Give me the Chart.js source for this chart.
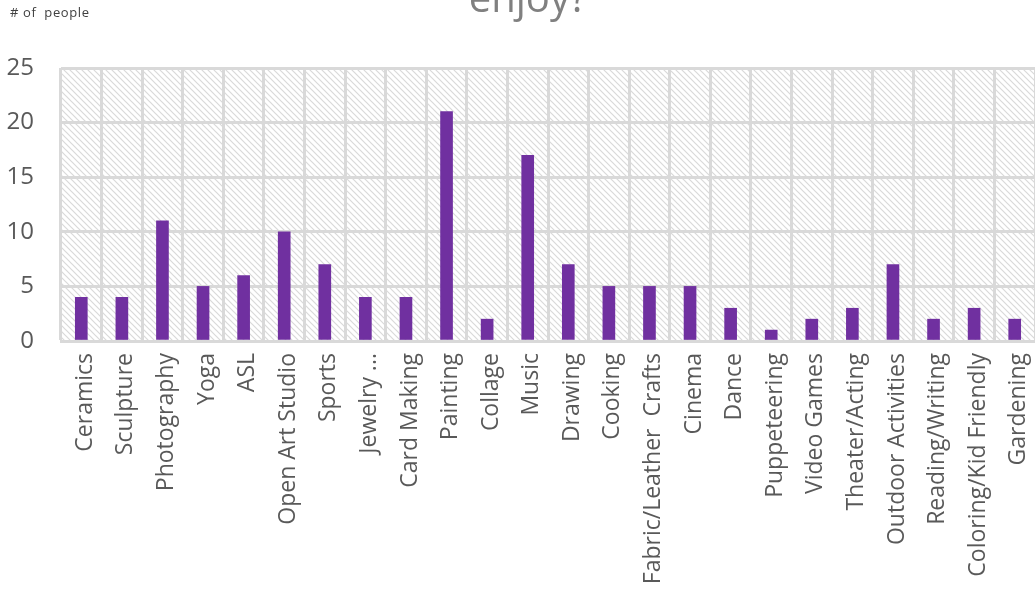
<!DOCTYPE html>
<html>
<head>
<meta charset="utf-8">
<script src="https://cdn.jsdelivr.net/npm/chart.js@4/dist/chart.umd.min.js"></script>
<style>
  body { margin: 0; background: #ffffff; }
  #wrap { position: relative; width: 1035px; height: 594px; overflow: hidden; }
</style>
</head>
<body>
<div id="wrap">
  <canvas id="myChart" width="1035" height="594"></canvas>
</div>
<script>
const categories = ['Ceramics', 'Sculpture', 'Photography', 'Yoga', 'ASL', 'Open Art Studio', 'Sports',
    'Jewelry ...', 'Card Making', 'Painting', 'Collage', 'Music', 'Drawing', 'Cooking',
    'Fabric/Leather  Crafts', 'Cinema', 'Dance', 'Puppeteering', 'Video Games', 'Theater/Acting',
    'Outdoor Activities', 'Reading/Writing', 'Coloring/Kid Friendly', 'Gardening'];
const people = [4, 4, 11, 5, 6, 10, 7, 4, 4, 21, 2, 17, 7, 5, 5, 5, 3, 1, 2, 3, 7, 2, 3, 2];
const yTicks = [0, 5, 10, 15, 20, 25];
const titleText = 'enjoy?';
const axisTitle = '# of  people';

const ctx = document.getElementById('myChart').getContext('2d');

// diagonal hatch for the plot background
function makeHatch() {
    const c = document.createElement('canvas');
    c.width = 6;
    c.height = 6;
    const g = c.getContext('2d');
    g.strokeStyle = '#d9d9d9';
    g.lineWidth = 1.2;
    g.beginPath();
    g.moveTo(-1, -1); g.lineTo(7, 7);
    g.moveTo(-4, 2); g.lineTo(2, 8);
    g.moveTo(2, -4); g.lineTo(8, 2);
    g.stroke();
    return ctx.createPattern(c, 'repeat');
}
const hatch = makeHatch();

const backdrop = {
    id: 'backdrop',
    beforeDraw(chart) {
        const a = chart.chartArea;
        const c = chart.ctx;
        c.save();
        c.fillStyle = hatch;
        c.fillRect(a.left, a.top, a.right - a.left, a.bottom - a.top);
        c.restore();
    },
    afterDraw(chart) {
        // title is cut off at the top in the original, only the last line shows
        const c = chart.ctx;
        c.save();
        c.fillStyle = '#808080';
        c.font = '40px "Open Sans"';
        c.textAlign = 'center';
        c.textBaseline = 'alphabetic';
        c.fillText(titleText, 528, 12);
        c.letterSpacing = '0.6px';
        c.fillStyle = '#404040';
        c.font = '13px "Open Sans"';
        c.textAlign = 'left';
        c.fillText(axisTitle, 10, 17);
        c.restore();
    }
};

const myChart = new Chart(ctx, {
    type: 'bar',
    data: {
        labels: categories,
        datasets: [{
            label: '# of people',
            data: people,
            backgroundColor: '#7030a0',
            barThickness: 12
        }]
    },
    options: {
        responsive: false,
        animation: false,
        layout: {
            padding: { top: 68, left: 0, right: 0, bottom: 0 }
        },
        plugins: {
            legend: { display: false },
            tooltip: { enabled: false }
        },
        scales: {
            x: {
                grid: {
                    offset: true,
                    color: '#d9d9d9',
                    lineWidth: 3,
                    drawTicks: false
                },
                border: { color: '#d9d9d9', width: 3 },
                ticks: {
                    color: '#595959',
                    font: { family: 'Open Sans', size: 23 },
                    minRotation: 90,
                    maxRotation: 90,
                    autoSkip: false,
                    labelOffset: 4,
                    padding: 12
                },
                afterFit(scale) {
                    scale.height = 594 - 341;
                    scale.paddingLeft = 0;
                    scale.paddingRight = 0;
                }
            },
            y: {
                min: 0,
                max: 25,
                afterBuildTicks(scale) { scale.ticks = yTicks.map(v => ({ value: v })); },
                grid: {
                    color: '#d9d9d9',
                    lineWidth: 3,
                    drawTicks: false
                },
                border: { display: false },
                ticks: {
                    color: '#595959',
                    font: { family: 'Open Sans', size: 24 },
                    padding: 27
                },
                afterFit(scale) {
                    scale.width = 61;
                    scale.paddingTop = 0;
                    scale.paddingBottom = 0;
                }
            }
        }
    },
    plugins: [backdrop]
});
</script>
</body>
</html>
